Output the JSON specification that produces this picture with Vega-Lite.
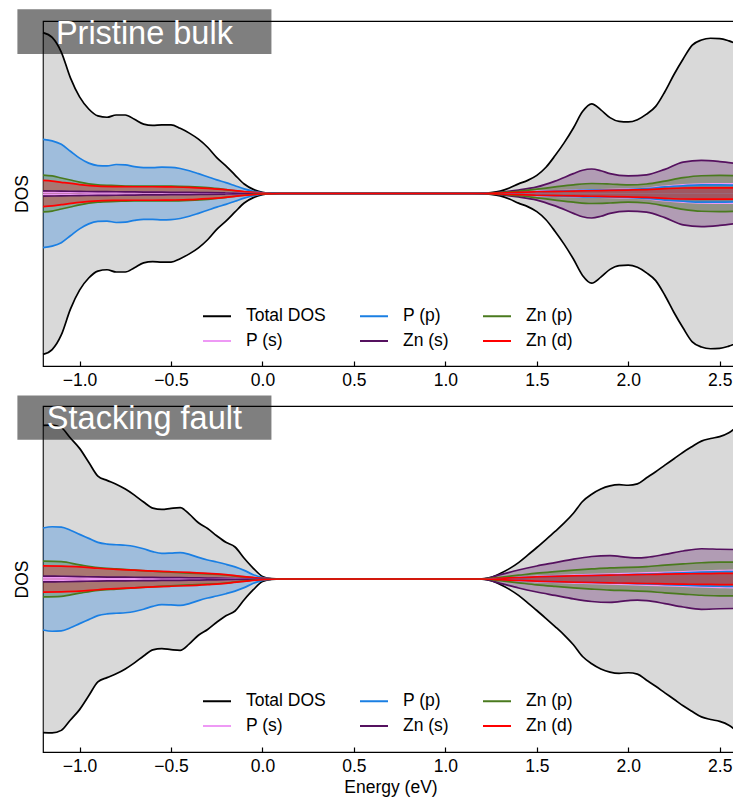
{
  "$schema": "https://vega.github.io/schema/vega-lite/v6.json",
  "padding": {"left": 12, "top": 8, "right": 0, "bottom": 0},
  "spacing": 40,
  "bounds": "flush",
  "datasets": {
    "bulk": [
      {"series":"Total DOS","energy":-1.2,"dos":9.33},{"series":"Total DOS","energy":-1.15,"dos":9.05},{"series":"Total DOS","energy":-1.1,"dos":8.2},{"series":"Total DOS","energy":-1.05,"dos":6.7},{"series":"Total DOS","energy":-1.0,"dos":5.6},{"series":"Total DOS","energy":-0.95,"dos":4.9},{"series":"Total DOS","energy":-0.9,"dos":4.5},{"series":"Total DOS","energy":-0.85,"dos":4.42},{"series":"Total DOS","energy":-0.8,"dos":4.55},{"series":"Total DOS","energy":-0.75,"dos":4.55},{"series":"Total DOS","energy":-0.7,"dos":4.3},{"series":"Total DOS","energy":-0.65,"dos":4.02},{"series":"Total DOS","energy":-0.6,"dos":3.95},{"series":"Total DOS","energy":-0.55,"dos":3.98},{"series":"Total DOS","energy":-0.5,"dos":3.98},{"series":"Total DOS","energy":-0.45,"dos":3.78},{"series":"Total DOS","energy":-0.4,"dos":3.5},{"series":"Total DOS","energy":-0.35,"dos":3.15},{"series":"Total DOS","energy":-0.3,"dos":2.68},{"series":"Total DOS","energy":-0.25,"dos":2.08},{"series":"Total DOS","energy":-0.2,"dos":1.6},{"series":"Total DOS","energy":-0.15,"dos":1.07},{"series":"Total DOS","energy":-0.1,"dos":0.55},{"series":"Total DOS","energy":-0.05,"dos":0.24},{"series":"Total DOS","energy":0.0,"dos":0.07},{"series":"Total DOS","energy":0.05,"dos":0.01},{"series":"Total DOS","energy":0.1,"dos":0},
      {"series":"Total DOS","energy":1.15,"dos":0},{"series":"Total DOS","energy":1.2,"dos":0.01},{"series":"Total DOS","energy":1.25,"dos":0.05},{"series":"Total DOS","energy":1.3,"dos":0.14},{"series":"Total DOS","energy":1.35,"dos":0.32},{"series":"Total DOS","energy":1.4,"dos":0.56},{"series":"Total DOS","energy":1.45,"dos":0.76},{"series":"Total DOS","energy":1.5,"dos":1.05},{"series":"Total DOS","energy":1.55,"dos":1.52},{"series":"Total DOS","energy":1.6,"dos":2.2},{"series":"Total DOS","energy":1.65,"dos":2.95},{"series":"Total DOS","energy":1.7,"dos":3.8},{"series":"Total DOS","energy":1.75,"dos":4.75},{"series":"Total DOS","energy":1.8,"dos":5.2},{"series":"Total DOS","energy":1.85,"dos":4.85},{"series":"Total DOS","energy":1.9,"dos":4.4},{"series":"Total DOS","energy":1.95,"dos":4.18},{"series":"Total DOS","energy":2.0,"dos":4.15},{"series":"Total DOS","energy":2.05,"dos":4.28},{"series":"Total DOS","energy":2.1,"dos":4.6},{"series":"Total DOS","energy":2.15,"dos":5.05},{"series":"Total DOS","energy":2.2,"dos":5.9},{"series":"Total DOS","energy":2.25,"dos":6.9},{"series":"Total DOS","energy":2.3,"dos":7.8},{"series":"Total DOS","energy":2.35,"dos":8.6},{"series":"Total DOS","energy":2.4,"dos":8.9},{"series":"Total DOS","energy":2.45,"dos":9.0},{"series":"Total DOS","energy":2.5,"dos":8.98},{"series":"Total DOS","energy":2.55,"dos":8.85},{"series":"Total DOS","energy":2.6,"dos":8.65},

      {"series":"P (s)","energy":-1.2,"dos":0.07},{"series":"P (s)","energy":-1.0,"dos":0.06},{"series":"P (s)","energy":-0.8,"dos":0.05},{"series":"P (s)","energy":-0.6,"dos":0.05},{"series":"P (s)","energy":-0.4,"dos":0.04},{"series":"P (s)","energy":-0.2,"dos":0.02},{"series":"P (s)","energy":0.0,"dos":0.005},{"series":"P (s)","energy":0.1,"dos":0},
      {"series":"P (s)","energy":1.2,"dos":0},{"series":"P (s)","energy":1.3,"dos":0.04},{"series":"P (s)","energy":1.4,"dos":0.08},{"series":"P (s)","energy":1.5,"dos":0.12},{"series":"P (s)","energy":1.6,"dos":0.16},{"series":"P (s)","energy":1.7,"dos":0.18},{"series":"P (s)","energy":1.8,"dos":0.2},{"series":"P (s)","energy":1.9,"dos":0.22},{"series":"P (s)","energy":2.0,"dos":0.25},{"series":"P (s)","energy":2.1,"dos":0.3},{"series":"P (s)","energy":2.2,"dos":0.42},{"series":"P (s)","energy":2.3,"dos":0.5},{"series":"P (s)","energy":2.4,"dos":0.55},{"series":"P (s)","energy":2.5,"dos":0.56},{"series":"P (s)","energy":2.6,"dos":0.55},

      {"series":"P (p)","energy":-1.2,"dos":3.14},{"series":"P (p)","energy":-1.15,"dos":3.05},{"series":"P (p)","energy":-1.1,"dos":2.85},{"series":"P (p)","energy":-1.05,"dos":2.45},{"series":"P (p)","energy":-1.0,"dos":2.05},{"series":"P (p)","energy":-0.95,"dos":1.76},{"series":"P (p)","energy":-0.9,"dos":1.62},{"series":"P (p)","energy":-0.85,"dos":1.6},{"series":"P (p)","energy":-0.8,"dos":1.68},{"series":"P (p)","energy":-0.75,"dos":1.66},{"series":"P (p)","energy":-0.7,"dos":1.56},{"series":"P (p)","energy":-0.65,"dos":1.5},{"series":"P (p)","energy":-0.6,"dos":1.5},{"series":"P (p)","energy":-0.55,"dos":1.53},{"series":"P (p)","energy":-0.5,"dos":1.52},{"series":"P (p)","energy":-0.45,"dos":1.45},{"series":"P (p)","energy":-0.4,"dos":1.32},{"series":"P (p)","energy":-0.35,"dos":1.15},{"series":"P (p)","energy":-0.3,"dos":0.97},{"series":"P (p)","energy":-0.25,"dos":0.79},{"series":"P (p)","energy":-0.2,"dos":0.63},{"series":"P (p)","energy":-0.15,"dos":0.45},{"series":"P (p)","energy":-0.1,"dos":0.27},{"series":"P (p)","energy":-0.05,"dos":0.13},{"series":"P (p)","energy":0.0,"dos":0.04},{"series":"P (p)","energy":0.05,"dos":0.01},{"series":"P (p)","energy":0.1,"dos":0},
      {"series":"P (p)","energy":1.2,"dos":0},{"series":"P (p)","energy":1.3,"dos":0.03},{"series":"P (p)","energy":1.4,"dos":0.07},{"series":"P (p)","energy":1.5,"dos":0.1},{"series":"P (p)","energy":1.6,"dos":0.14},{"series":"P (p)","energy":1.7,"dos":0.17},{"series":"P (p)","energy":1.8,"dos":0.2},{"series":"P (p)","energy":1.9,"dos":0.2},{"series":"P (p)","energy":2.0,"dos":0.22},{"series":"P (p)","energy":2.1,"dos":0.28},{"series":"P (p)","energy":2.2,"dos":0.38},{"series":"P (p)","energy":2.3,"dos":0.45},{"series":"P (p)","energy":2.4,"dos":0.5},{"series":"P (p)","energy":2.5,"dos":0.5},{"series":"P (p)","energy":2.6,"dos":0.48},

      {"series":"Zn (s)","energy":-1.2,"dos":0.15},{"series":"Zn (s)","energy":-1.1,"dos":0.14},{"series":"Zn (s)","energy":-1.0,"dos":0.12},{"series":"Zn (s)","energy":-0.9,"dos":0.11},{"series":"Zn (s)","energy":-0.8,"dos":0.1},{"series":"Zn (s)","energy":-0.7,"dos":0.09},{"series":"Zn (s)","energy":-0.6,"dos":0.08},{"series":"Zn (s)","energy":-0.5,"dos":0.07},{"series":"Zn (s)","energy":-0.4,"dos":0.06},{"series":"Zn (s)","energy":-0.3,"dos":0.05},{"series":"Zn (s)","energy":-0.2,"dos":0.03},{"series":"Zn (s)","energy":-0.1,"dos":0.015},{"series":"Zn (s)","energy":0.0,"dos":0.005},{"series":"Zn (s)","energy":0.1,"dos":0},
      {"series":"Zn (s)","energy":1.2,"dos":0},{"series":"Zn (s)","energy":1.25,"dos":0.03},{"series":"Zn (s)","energy":1.3,"dos":0.08},{"series":"Zn (s)","energy":1.4,"dos":0.2},{"series":"Zn (s)","energy":1.5,"dos":0.38},{"series":"Zn (s)","energy":1.6,"dos":0.72},{"series":"Zn (s)","energy":1.7,"dos":1.15},{"series":"Zn (s)","energy":1.75,"dos":1.35},{"series":"Zn (s)","energy":1.8,"dos":1.42},{"series":"Zn (s)","energy":1.85,"dos":1.32},{"series":"Zn (s)","energy":1.9,"dos":1.15},{"series":"Zn (s)","energy":2.0,"dos":1.02},{"series":"Zn (s)","energy":2.1,"dos":1.08},{"series":"Zn (s)","energy":2.2,"dos":1.4},{"series":"Zn (s)","energy":2.3,"dos":1.82},{"series":"Zn (s)","energy":2.4,"dos":1.92},{"series":"Zn (s)","energy":2.5,"dos":1.85},{"series":"Zn (s)","energy":2.6,"dos":1.72},

      {"series":"Zn (p)","energy":-1.2,"dos":1.07},{"series":"Zn (p)","energy":-1.15,"dos":1.02},{"series":"Zn (p)","energy":-1.1,"dos":0.9},{"series":"Zn (p)","energy":-1.05,"dos":0.78},{"series":"Zn (p)","energy":-1.0,"dos":0.66},{"series":"Zn (p)","energy":-0.95,"dos":0.56},{"series":"Zn (p)","energy":-0.9,"dos":0.5},{"series":"Zn (p)","energy":-0.8,"dos":0.46},{"series":"Zn (p)","energy":-0.7,"dos":0.43},{"series":"Zn (p)","energy":-0.6,"dos":0.43},{"series":"Zn (p)","energy":-0.5,"dos":0.43},{"series":"Zn (p)","energy":-0.4,"dos":0.4},{"series":"Zn (p)","energy":-0.3,"dos":0.34},{"series":"Zn (p)","energy":-0.2,"dos":0.23},{"series":"Zn (p)","energy":-0.1,"dos":0.1},{"series":"Zn (p)","energy":0.0,"dos":0.02},{"series":"Zn (p)","energy":0.1,"dos":0},
      {"series":"Zn (p)","energy":1.2,"dos":0},{"series":"Zn (p)","energy":1.3,"dos":0.05},{"series":"Zn (p)","energy":1.4,"dos":0.13},{"series":"Zn (p)","energy":1.5,"dos":0.25},{"series":"Zn (p)","energy":1.6,"dos":0.38},{"series":"Zn (p)","energy":1.7,"dos":0.5},{"series":"Zn (p)","energy":1.8,"dos":0.58},{"series":"Zn (p)","energy":1.9,"dos":0.55},{"series":"Zn (p)","energy":2.0,"dos":0.5},{"series":"Zn (p)","energy":2.1,"dos":0.55},{"series":"Zn (p)","energy":2.2,"dos":0.72},{"series":"Zn (p)","energy":2.3,"dos":0.92},{"series":"Zn (p)","energy":2.4,"dos":1.03},{"series":"Zn (p)","energy":2.5,"dos":1.05},{"series":"Zn (p)","energy":2.6,"dos":1.03},

      {"series":"Zn (d)","energy":-1.2,"dos":0.76},{"series":"Zn (d)","energy":-1.15,"dos":0.72},{"series":"Zn (d)","energy":-1.1,"dos":0.65},{"series":"Zn (d)","energy":-1.0,"dos":0.52},{"series":"Zn (d)","energy":-0.9,"dos":0.43},{"series":"Zn (d)","energy":-0.8,"dos":0.4},{"series":"Zn (d)","energy":-0.7,"dos":0.39},{"series":"Zn (d)","energy":-0.6,"dos":0.39},{"series":"Zn (d)","energy":-0.5,"dos":0.38},{"series":"Zn (d)","energy":-0.4,"dos":0.36},{"series":"Zn (d)","energy":-0.3,"dos":0.3},{"series":"Zn (d)","energy":-0.2,"dos":0.22},{"series":"Zn (d)","energy":-0.1,"dos":0.11},{"series":"Zn (d)","energy":0.0,"dos":0.03},{"series":"Zn (d)","energy":0.1,"dos":0},
      {"series":"Zn (d)","energy":1.2,"dos":0},{"series":"Zn (d)","energy":1.3,"dos":0.03},{"series":"Zn (d)","energy":1.4,"dos":0.07},{"series":"Zn (d)","energy":1.5,"dos":0.1},{"series":"Zn (d)","energy":1.6,"dos":0.12},{"series":"Zn (d)","energy":1.7,"dos":0.14},{"series":"Zn (d)","energy":1.8,"dos":0.16},{"series":"Zn (d)","energy":1.9,"dos":0.18},{"series":"Zn (d)","energy":2.0,"dos":0.2},{"series":"Zn (d)","energy":2.1,"dos":0.23},{"series":"Zn (d)","energy":2.2,"dos":0.28},{"series":"Zn (d)","energy":2.3,"dos":0.32},{"series":"Zn (d)","energy":2.4,"dos":0.33},{"series":"Zn (d)","energy":2.5,"dos":0.33},{"series":"Zn (d)","energy":2.6,"dos":0.32}
    ],
    "fault": [
      {"series":"Total DOS","energy":-1.2,"dos":8.88},{"series":"Total DOS","energy":-1.15,"dos":8.9},{"series":"Total DOS","energy":-1.1,"dos":8.75},{"series":"Total DOS","energy":-1.05,"dos":8.15},{"series":"Total DOS","energy":-1.0,"dos":7.55},{"series":"Total DOS","energy":-0.95,"dos":6.75},{"series":"Total DOS","energy":-0.9,"dos":5.95},{"series":"Total DOS","energy":-0.85,"dos":5.7},{"series":"Total DOS","energy":-0.8,"dos":5.48},{"series":"Total DOS","energy":-0.75,"dos":5.2},{"series":"Total DOS","energy":-0.7,"dos":4.85},{"series":"Total DOS","energy":-0.65,"dos":4.45},{"series":"Total DOS","energy":-0.6,"dos":4.1},{"series":"Total DOS","energy":-0.55,"dos":4.02},{"series":"Total DOS","energy":-0.5,"dos":4.08},{"series":"Total DOS","energy":-0.45,"dos":4.12},{"series":"Total DOS","energy":-0.4,"dos":3.75},{"series":"Total DOS","energy":-0.35,"dos":3.25},{"series":"Total DOS","energy":-0.3,"dos":2.92},{"series":"Total DOS","energy":-0.25,"dos":2.5},{"series":"Total DOS","energy":-0.2,"dos":2.12},{"series":"Total DOS","energy":-0.15,"dos":1.85},{"series":"Total DOS","energy":-0.1,"dos":1.2},{"series":"Total DOS","energy":-0.05,"dos":0.62},{"series":"Total DOS","energy":0.0,"dos":0.15},{"series":"Total DOS","energy":0.05,"dos":0.02},{"series":"Total DOS","energy":0.1,"dos":0},
      {"series":"Total DOS","energy":1.15,"dos":0},{"series":"Total DOS","energy":1.2,"dos":0.01},{"series":"Total DOS","energy":1.25,"dos":0.1},{"series":"Total DOS","energy":1.3,"dos":0.32},{"series":"Total DOS","energy":1.35,"dos":0.6},{"series":"Total DOS","energy":1.4,"dos":0.95},{"series":"Total DOS","energy":1.45,"dos":1.38},{"series":"Total DOS","energy":1.5,"dos":1.82},{"series":"Total DOS","energy":1.55,"dos":2.28},{"series":"Total DOS","energy":1.6,"dos":2.75},{"series":"Total DOS","energy":1.65,"dos":3.24},{"series":"Total DOS","energy":1.7,"dos":3.8},{"series":"Total DOS","energy":1.75,"dos":4.48},{"series":"Total DOS","energy":1.8,"dos":4.9},{"series":"Total DOS","energy":1.85,"dos":5.2},{"series":"Total DOS","energy":1.9,"dos":5.38},{"series":"Total DOS","energy":1.95,"dos":5.45},{"series":"Total DOS","energy":2.0,"dos":5.42},{"series":"Total DOS","energy":2.05,"dos":5.5},{"series":"Total DOS","energy":2.1,"dos":5.85},{"series":"Total DOS","energy":2.15,"dos":6.2},{"series":"Total DOS","energy":2.2,"dos":6.58},{"series":"Total DOS","energy":2.25,"dos":6.95},{"series":"Total DOS","energy":2.3,"dos":7.33},{"series":"Total DOS","energy":2.35,"dos":7.66},{"series":"Total DOS","energy":2.4,"dos":7.97},{"series":"Total DOS","energy":2.45,"dos":8.12},{"series":"Total DOS","energy":2.5,"dos":8.23},{"series":"Total DOS","energy":2.55,"dos":8.45},{"series":"Total DOS","energy":2.6,"dos":8.85},

      {"series":"P (s)","energy":-1.2,"dos":0.07},{"series":"P (s)","energy":-1.0,"dos":0.06},{"series":"P (s)","energy":-0.8,"dos":0.05},{"series":"P (s)","energy":-0.6,"dos":0.05},{"series":"P (s)","energy":-0.4,"dos":0.04},{"series":"P (s)","energy":-0.2,"dos":0.02},{"series":"P (s)","energy":0.0,"dos":0.005},{"series":"P (s)","energy":0.1,"dos":0},
      {"series":"P (s)","energy":1.2,"dos":0},{"series":"P (s)","energy":1.3,"dos":0.05},{"series":"P (s)","energy":1.5,"dos":0.15},{"series":"P (s)","energy":1.7,"dos":0.22},{"series":"P (s)","energy":1.9,"dos":0.28},{"series":"P (s)","energy":2.1,"dos":0.35},{"series":"P (s)","energy":2.3,"dos":0.42},{"series":"P (s)","energy":2.5,"dos":0.48},{"series":"P (s)","energy":2.6,"dos":0.5},

      {"series":"P (p)","energy":-1.2,"dos":2.95},{"series":"P (p)","energy":-1.15,"dos":3.02},{"series":"P (p)","energy":-1.1,"dos":3.0},{"series":"P (p)","energy":-1.05,"dos":2.82},{"series":"P (p)","energy":-1.0,"dos":2.58},{"series":"P (p)","energy":-0.95,"dos":2.35},{"series":"P (p)","energy":-0.9,"dos":2.12},{"series":"P (p)","energy":-0.85,"dos":2.02},{"series":"P (p)","energy":-0.8,"dos":1.98},{"series":"P (p)","energy":-0.75,"dos":1.95},{"series":"P (p)","energy":-0.7,"dos":1.88},{"series":"P (p)","energy":-0.65,"dos":1.75},{"series":"P (p)","energy":-0.6,"dos":1.58},{"series":"P (p)","energy":-0.55,"dos":1.48},{"series":"P (p)","energy":-0.5,"dos":1.5},{"series":"P (p)","energy":-0.45,"dos":1.53},{"series":"P (p)","energy":-0.4,"dos":1.42},{"series":"P (p)","energy":-0.35,"dos":1.25},{"series":"P (p)","energy":-0.3,"dos":1.1},{"series":"P (p)","energy":-0.25,"dos":0.98},{"series":"P (p)","energy":-0.2,"dos":0.85},{"series":"P (p)","energy":-0.15,"dos":0.7},{"series":"P (p)","energy":-0.1,"dos":0.5},{"series":"P (p)","energy":-0.05,"dos":0.25},{"series":"P (p)","energy":0.0,"dos":0.08},{"series":"P (p)","energy":0.05,"dos":0.01},{"series":"P (p)","energy":0.1,"dos":0},
      {"series":"P (p)","energy":1.2,"dos":0},{"series":"P (p)","energy":1.3,"dos":0.04},{"series":"P (p)","energy":1.4,"dos":0.08},{"series":"P (p)","energy":1.5,"dos":0.12},{"series":"P (p)","energy":1.6,"dos":0.15},{"series":"P (p)","energy":1.7,"dos":0.18},{"series":"P (p)","energy":1.8,"dos":0.2},{"series":"P (p)","energy":1.9,"dos":0.22},{"series":"P (p)","energy":2.0,"dos":0.25},{"series":"P (p)","energy":2.1,"dos":0.28},{"series":"P (p)","energy":2.2,"dos":0.32},{"series":"P (p)","energy":2.3,"dos":0.36},{"series":"P (p)","energy":2.4,"dos":0.4},{"series":"P (p)","energy":2.5,"dos":0.42},{"series":"P (p)","energy":2.6,"dos":0.43},

      {"series":"Zn (s)","energy":-1.2,"dos":0.17},{"series":"Zn (s)","energy":-1.1,"dos":0.16},{"series":"Zn (s)","energy":-1.0,"dos":0.14},{"series":"Zn (s)","energy":-0.9,"dos":0.12},{"series":"Zn (s)","energy":-0.8,"dos":0.11},{"series":"Zn (s)","energy":-0.7,"dos":0.1},{"series":"Zn (s)","energy":-0.6,"dos":0.09},{"series":"Zn (s)","energy":-0.5,"dos":0.08},{"series":"Zn (s)","energy":-0.4,"dos":0.07},{"series":"Zn (s)","energy":-0.3,"dos":0.055},{"series":"Zn (s)","energy":-0.2,"dos":0.04},{"series":"Zn (s)","energy":-0.1,"dos":0.02},{"series":"Zn (s)","energy":0.0,"dos":0.005},{"series":"Zn (s)","energy":0.1,"dos":0},
      {"series":"Zn (s)","energy":1.2,"dos":0},{"series":"Zn (s)","energy":1.3,"dos":0.25},{"series":"Zn (s)","energy":1.4,"dos":0.52},{"series":"Zn (s)","energy":1.5,"dos":0.75},{"series":"Zn (s)","energy":1.6,"dos":0.95},{"series":"Zn (s)","energy":1.7,"dos":1.15},{"series":"Zn (s)","energy":1.8,"dos":1.3},{"series":"Zn (s)","energy":1.9,"dos":1.35},{"series":"Zn (s)","energy":2.0,"dos":1.25},{"series":"Zn (s)","energy":2.05,"dos":1.22},{"series":"Zn (s)","energy":2.1,"dos":1.25},{"series":"Zn (s)","energy":2.2,"dos":1.42},{"series":"Zn (s)","energy":2.3,"dos":1.62},{"series":"Zn (s)","energy":2.4,"dos":1.75},{"series":"Zn (s)","energy":2.5,"dos":1.72},{"series":"Zn (s)","energy":2.6,"dos":1.7},

      {"series":"Zn (p)","energy":-1.2,"dos":1.03},{"series":"Zn (p)","energy":-1.1,"dos":1.0},{"series":"Zn (p)","energy":-1.0,"dos":0.82},{"series":"Zn (p)","energy":-0.9,"dos":0.66},{"series":"Zn (p)","energy":-0.8,"dos":0.58},{"series":"Zn (p)","energy":-0.7,"dos":0.51},{"series":"Zn (p)","energy":-0.6,"dos":0.45},{"series":"Zn (p)","energy":-0.5,"dos":0.39},{"series":"Zn (p)","energy":-0.4,"dos":0.34},{"series":"Zn (p)","energy":-0.3,"dos":0.3},{"series":"Zn (p)","energy":-0.2,"dos":0.23},{"series":"Zn (p)","energy":-0.1,"dos":0.12},{"series":"Zn (p)","energy":0.0,"dos":0.03},{"series":"Zn (p)","energy":0.1,"dos":0},
      {"series":"Zn (p)","energy":1.2,"dos":0},{"series":"Zn (p)","energy":1.3,"dos":0.1},{"series":"Zn (p)","energy":1.4,"dos":0.22},{"series":"Zn (p)","energy":1.5,"dos":0.34},{"series":"Zn (p)","energy":1.6,"dos":0.43},{"series":"Zn (p)","energy":1.7,"dos":0.51},{"series":"Zn (p)","energy":1.8,"dos":0.58},{"series":"Zn (p)","energy":1.9,"dos":0.64},{"series":"Zn (p)","energy":2.0,"dos":0.67},{"series":"Zn (p)","energy":2.1,"dos":0.72},{"series":"Zn (p)","energy":2.2,"dos":0.8},{"series":"Zn (p)","energy":2.3,"dos":0.87},{"series":"Zn (p)","energy":2.4,"dos":0.94},{"series":"Zn (p)","energy":2.5,"dos":0.97},{"series":"Zn (p)","energy":2.6,"dos":0.98},

      {"series":"Zn (d)","energy":-1.2,"dos":0.76},{"series":"Zn (d)","energy":-1.1,"dos":0.74},{"series":"Zn (d)","energy":-1.0,"dos":0.7},{"series":"Zn (d)","energy":-0.9,"dos":0.62},{"series":"Zn (d)","energy":-0.8,"dos":0.56},{"series":"Zn (d)","energy":-0.7,"dos":0.51},{"series":"Zn (d)","energy":-0.6,"dos":0.46},{"series":"Zn (d)","energy":-0.5,"dos":0.42},{"series":"Zn (d)","energy":-0.4,"dos":0.38},{"series":"Zn (d)","energy":-0.3,"dos":0.32},{"series":"Zn (d)","energy":-0.2,"dos":0.25},{"series":"Zn (d)","energy":-0.1,"dos":0.14},{"series":"Zn (d)","energy":0.0,"dos":0.04},{"series":"Zn (d)","energy":0.1,"dos":0},
      {"series":"Zn (d)","energy":1.2,"dos":0},{"series":"Zn (d)","energy":1.3,"dos":0.04},{"series":"Zn (d)","energy":1.4,"dos":0.08},{"series":"Zn (d)","energy":1.5,"dos":0.12},{"series":"Zn (d)","energy":1.6,"dos":0.15},{"series":"Zn (d)","energy":1.7,"dos":0.18},{"series":"Zn (d)","energy":1.8,"dos":0.2},{"series":"Zn (d)","energy":1.9,"dos":0.22},{"series":"Zn (d)","energy":2.0,"dos":0.24},{"series":"Zn (d)","energy":2.1,"dos":0.26},{"series":"Zn (d)","energy":2.2,"dos":0.28},{"series":"Zn (d)","energy":2.3,"dos":0.3},{"series":"Zn (d)","energy":2.4,"dos":0.31},{"series":"Zn (d)","energy":2.5,"dos":0.32},{"series":"Zn (d)","energy":2.6,"dos":0.33}
    ]
  },
  "vconcat": [
    {
      "width": 695,
      "height": 345,
      "data": {"name": "bulk"},
      "resolve": {"scale": {"y": "independent"}},
      "layer": [
        {
          "mark": {"type": "area", "interpolate": "monotone", "fillOpacity": 0.3},
          "encoding": {
            "x": {"field": "energy", "type": "quantitative", "scale": {"domain": [-1.2, 2.6], "nice": false}, "axis": {"values": [-1, -0.5, 0, 0.5, 1, 1.5, 2, 2.5], "format": ".1f", "title": null}},
            "y": {"field": "dos", "type": "quantitative", "stack": null, "scale": {"domain": [-10, 10]}, "axis": {"title": "DOS", "labels": false, "ticks": false, "domain": false, "titlePadding": 12}},
            "fill": {"field": "series", "type": "nominal", "legend": null, "scale": {"domain": ["Total DOS", "P (p)", "Zn (p)", "P (s)", "Zn (s)", "Zn (d)"], "range": ["#808080", "#1a7fe3", "#4a7a1e", "#ee99f5", "#55115f", "#ff0000"]}}
          }
        },
        {
          "mark": {"type": "area", "interpolate": "monotone", "fillOpacity": 0.3},
          "encoding": {
            "x": {"field": "energy", "type": "quantitative", "scale": {"domain": [-1.2, 2.6], "nice": false}, "axis": {"values": [-1, -0.5, 0, 0.5, 1, 1.5, 2, 2.5], "format": ".1f", "title": null}},
            "y": {"field": "dos", "type": "quantitative", "stack": null, "scale": {"domain": [-10, 10], "reverse": true}, "axis": null},
            "fill": {"field": "series", "type": "nominal", "legend": null, "scale": {"domain": ["Total DOS", "P (p)", "Zn (p)", "P (s)", "Zn (s)", "Zn (d)"], "range": ["#808080", "#1a7fe3", "#4a7a1e", "#ee99f5", "#55115f", "#ff0000"]}}
          }
        },
        {
          "mark": {"type": "line", "interpolate": "monotone", "strokeWidth": 1.7},
          "encoding": {
            "x": {"field": "energy", "type": "quantitative", "scale": {"domain": [-1.2, 2.6], "nice": false}, "axis": {"values": [-1, -0.5, 0, 0.5, 1, 1.5, 2, 2.5], "format": ".1f", "title": null}},
            "y": {"field": "dos", "type": "quantitative", "scale": {"domain": [-10, 10]}, "axis": null},
            "color": {"field": "series", "type": "nominal", "scale": {"domain": ["Total DOS", "P (s)", "P (p)", "Zn (s)", "Zn (p)", "Zn (d)"], "range": ["#000000", "#ee99f5", "#1a7fe3", "#55115f", "#4a7a1e", "#ff0000"]},
              "legend": {"orient": "none", "legendX": 159, "legendY": 280, "columns": 3, "title": null, "symbolType": "stroke", "symbolSize": 784, "symbolStrokeWidth": 2, "labelOffset": 14, "columnPadding": 30, "rowPadding": 1, "padding": 0, "labelLimit": 300}}
          }
        },
        {
          "mark": {"type": "line", "interpolate": "monotone", "strokeWidth": 1.7},
          "encoding": {
            "x": {"field": "energy", "type": "quantitative", "scale": {"domain": [-1.2, 2.6], "nice": false}, "axis": {"values": [-1, -0.5, 0, 0.5, 1, 1.5, 2, 2.5], "format": ".1f", "title": null}},
            "y": {"field": "dos", "type": "quantitative", "scale": {"domain": [-10, 10], "reverse": true}, "axis": null},
            "color": {"field": "series", "type": "nominal", "scale": {"domain": ["Total DOS", "P (s)", "P (p)", "Zn (s)", "Zn (p)", "Zn (d)"], "range": ["#000000", "#ee99f5", "#1a7fe3", "#55115f", "#4a7a1e", "#ff0000"]},
              "legend": {"orient": "none", "legendX": 159, "legendY": 280, "columns": 3, "title": null, "symbolType": "stroke", "symbolSize": 784, "symbolStrokeWidth": 2, "labelOffset": 14, "columnPadding": 30, "rowPadding": 1, "padding": 0, "labelLimit": 300}}
          }
        },
        {
          "data": {"values": [{"label": "Pristine bulk"}]},
          "mark": {"type": "rect", "color": "black", "opacity": 0.5},
          "encoding": {
            "x": {"datum": -1.34, "type": "quantitative", "scale": {"domain": [-1.2, 2.6], "nice": false}},
            "x2": {"datum": 0.049},
            "y": {"datum": 10.68, "type": "quantitative", "scale": {"domain": [-10, 10]}, "axis": null},
            "y2": {"datum": 8.08}
          }
        },
        {
          "data": {"values": [{"label": "Pristine bulk"}]},
          "mark": {"type": "text", "color": "white", "fontSize": 32.5, "align": "center", "baseline": "alphabetic"},
          "encoding": {
            "x": {"datum": -0.6455, "type": "quantitative", "scale": {"domain": [-1.2, 2.6], "nice": false}},
            "y": {"datum": 8.67, "type": "quantitative", "scale": {"domain": [-10, 10]}, "axis": null},
            "text": {"field": "label"}
          }
        }
      ]
    },
    {
      "width": 695,
      "height": 346,
      "data": {"name": "fault"},
      "resolve": {"scale": {"y": "independent"}},
      "layer": [
        {
          "mark": {"type": "area", "interpolate": "monotone", "fillOpacity": 0.3},
          "encoding": {
            "x": {"field": "energy", "type": "quantitative", "scale": {"domain": [-1.2, 2.6], "nice": false}, "axis": {"values": [-1, -0.5, 0, 0.5, 1, 1.5, 2, 2.5], "format": ".1f", "title": "Energy (eV)"}},
            "y": {"field": "dos", "type": "quantitative", "stack": null, "scale": {"domain": [-10, 10]}, "axis": {"title": "DOS", "labels": false, "ticks": false, "domain": false, "titlePadding": 12}},
            "fill": {"field": "series", "type": "nominal", "legend": null, "scale": {"domain": ["Total DOS", "P (p)", "Zn (p)", "P (s)", "Zn (s)", "Zn (d)"], "range": ["#808080", "#1a7fe3", "#4a7a1e", "#ee99f5", "#55115f", "#ff0000"]}}
          }
        },
        {
          "mark": {"type": "area", "interpolate": "monotone", "fillOpacity": 0.3},
          "encoding": {
            "x": {"field": "energy", "type": "quantitative", "scale": {"domain": [-1.2, 2.6], "nice": false}, "axis": {"values": [-1, -0.5, 0, 0.5, 1, 1.5, 2, 2.5], "format": ".1f", "title": "Energy (eV)"}},
            "y": {"field": "dos", "type": "quantitative", "stack": null, "scale": {"domain": [-10, 10], "reverse": true}, "axis": null},
            "fill": {"field": "series", "type": "nominal", "legend": null, "scale": {"domain": ["Total DOS", "P (p)", "Zn (p)", "P (s)", "Zn (s)", "Zn (d)"], "range": ["#808080", "#1a7fe3", "#4a7a1e", "#ee99f5", "#55115f", "#ff0000"]}}
          }
        },
        {
          "mark": {"type": "line", "interpolate": "monotone", "strokeWidth": 1.7},
          "encoding": {
            "x": {"field": "energy", "type": "quantitative", "scale": {"domain": [-1.2, 2.6], "nice": false}, "axis": {"values": [-1, -0.5, 0, 0.5, 1, 1.5, 2, 2.5], "format": ".1f", "title": "Energy (eV)"}},
            "y": {"field": "dos", "type": "quantitative", "scale": {"domain": [-10, 10]}, "axis": null},
            "color": {"field": "series", "type": "nominal", "scale": {"domain": ["Total DOS", "P (s)", "P (p)", "Zn (s)", "Zn (p)", "Zn (d)"], "range": ["#000000", "#ee99f5", "#1a7fe3", "#55115f", "#4a7a1e", "#ff0000"]},
              "legend": {"orient": "none", "legendX": 159, "legendY": 280, "columns": 3, "title": null, "symbolType": "stroke", "symbolSize": 784, "symbolStrokeWidth": 2, "labelOffset": 14, "columnPadding": 30, "rowPadding": 1, "padding": 0, "labelLimit": 300}}
          }
        },
        {
          "mark": {"type": "line", "interpolate": "monotone", "strokeWidth": 1.7},
          "encoding": {
            "x": {"field": "energy", "type": "quantitative", "scale": {"domain": [-1.2, 2.6], "nice": false}, "axis": {"values": [-1, -0.5, 0, 0.5, 1, 1.5, 2, 2.5], "format": ".1f", "title": "Energy (eV)"}},
            "y": {"field": "dos", "type": "quantitative", "scale": {"domain": [-10, 10], "reverse": true}, "axis": null},
            "color": {"field": "series", "type": "nominal", "scale": {"domain": ["Total DOS", "P (s)", "P (p)", "Zn (s)", "Zn (p)", "Zn (d)"], "range": ["#000000", "#ee99f5", "#1a7fe3", "#55115f", "#4a7a1e", "#ff0000"]},
              "legend": {"orient": "none", "legendX": 159, "legendY": 280, "columns": 3, "title": null, "symbolType": "stroke", "symbolSize": 784, "symbolStrokeWidth": 2, "labelOffset": 14, "columnPadding": 30, "rowPadding": 1, "padding": 0, "labelLimit": 300}}
          }
        },
        {
          "data": {"values": [{"label": "Stacking fault"}]},
          "mark": {"type": "rect", "color": "black", "opacity": 0.5},
          "encoding": {
            "x": {"datum": -1.34, "type": "quantitative", "scale": {"domain": [-1.2, 2.6], "nice": false}},
            "x2": {"datum": 0.049},
            "y": {"datum": 10.6, "type": "quantitative", "scale": {"domain": [-10, 10]}, "axis": null},
            "y2": {"datum": 8.05}
          }
        },
        {
          "data": {"values": [{"label": "Stacking fault"}]},
          "mark": {"type": "text", "color": "white", "fontSize": 32.5, "align": "center", "baseline": "alphabetic"},
          "encoding": {
            "x": {"datum": -0.6455, "type": "quantitative", "scale": {"domain": [-1.2, 2.6], "nice": false}},
            "y": {"datum": 8.65, "type": "quantitative", "scale": {"domain": [-10, 10]}, "axis": null},
            "text": {"field": "label"}
          }
        }
      ]
    }
  ],
  "resolve": {"scale": {"color": "independent", "fill": "independent"}, "legend": {"color": "independent"}},
  "config": {
    "font": "Liberation Sans",
    "view": {"stroke": "black", "strokeWidth": 1.2},
    "axis": {"grid": false, "domainColor": "black", "domainWidth": 1.2, "tickColor": "black", "tickWidth": 1.2, "tickSize": -5, "labelFontSize": 17.5, "labelColor": "black", "labelPadding": 10, "titleFontSize": 17.5, "titleFontWeight": "normal", "titleColor": "black", "titlePadding": 4},
    "legend": {"labelFontSize": 17.5, "labelColor": "black"}
  }
}
